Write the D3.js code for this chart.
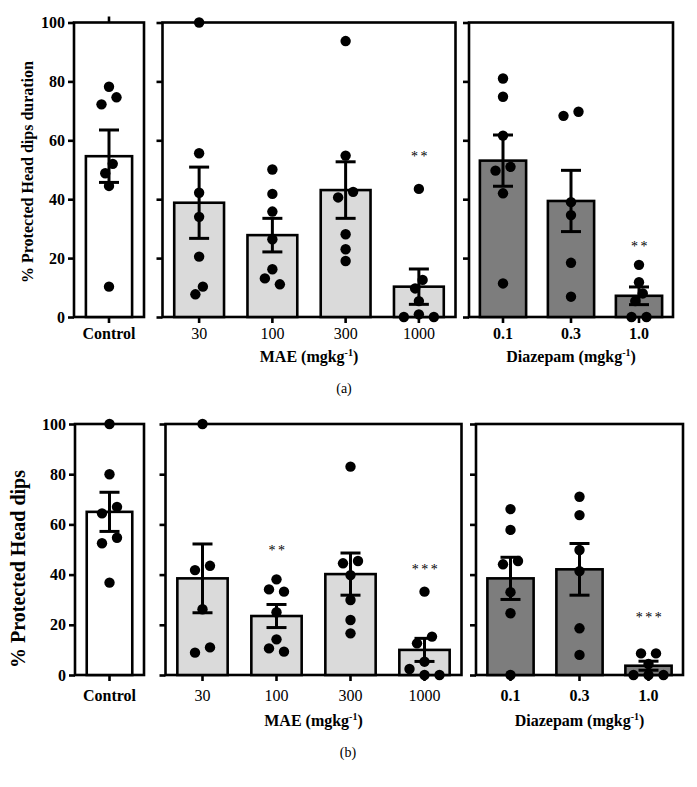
<!DOCTYPE html>
<html><head><meta charset="utf-8">
<script src="https://cdn.jsdelivr.net/npm/d3@7"></script>
<style>
body{margin:0;background:#fff}
text{font-family:"Liberation Serif","Times New Roman",serif;fill:#000}
</style>
</head><body>
<svg id="c" width="697" height="787"></svg>
<script>
// ---------------- DATA ----------------
const controlCats = ["Control"];
const maeCats = ["30", "100", "300", "1000"];
const diazCats = ["0.1", "0.3", "1.0"];
const yTicks = [0, 20, 40, 60, 80, 100];

// Panel (a): % Protected Head dips duration
const aControlPoints = [[78.2, 74.6, 72.2, 52, 48.8, 44.5, 10.3]];
const aControlMean = [54.6];
const aControlSem = [8.9];
const aMaePoints = [
  [100, 55.6, 42.2, 34, 20.5, 10.3, 7.7],
  [50.1, 41.8, 35.8, 26.4, 16.2, 13.1, 11.1],
  [93.7, 54.8, 42.5, 40.6, 28.1, 23, 19],
  [43.5, 12.6, 9.7, 5.4, 0.9, 0, 0]
];
const aMaeMean = [38.8, 27.8, 43.1, 10.3];
const aMaeSem = [12.1, 5.7, 9.6, 6.0];
const aMaeSig = ["", "", "", "**"];
const aMaeSigAt = [0, 0, 0, 55.6];
const aDiazPoints = [
  [81, 74.8, 61.6, 51, 49.7, 42, 11.4],
  [69.7, 68.3, 39, 34.6, 18.4, 6.9],
  [17.7, 11.8, 8, 5.4, 0, 0]
];
const aDiazMean = [53.1, 39.4, 7.2];
const aDiazSem = [8.7, 10.4, 3.0];
const aDiazSig = ["", "", "**"];
const aDiazSigAt = [0, 0, 25];

// Panel (b): % Protected Head dips
const bControlPoints = [[100, 80, 67, 64.4, 54.7, 52.5, 36.8]];
const bControlMean = [65];
const bControlSem = [7.8];
const bMaePoints = [
  [100, 43.5, 41.8, 26.2, 11, 8.9],
  [38.1, 34.1, 33.2, 25, 14.2, 10.6, 9.3],
  [83, 45.4, 44.5, 39.8, 29.9, 21.9, 16.6],
  [33.2, 15.3, 12.6, 5.3, 2.4, 0, 0]
];
const bMaeMean = [38.5, 23.5, 40.2, 10];
const bMaeSem = [13.7, 4.6, 8.4, 4.6];
const bMaeSig = ["", "**", "", "***"];
const bMaeSigAt = [0, 51, 0, 43.5];
const bDiazPoints = [
  [66.1, 57.8, 45.4, 44.1, 33, 24.6, 0],
  [71, 63.7, 49.8, 41.4, 18.6, 8],
  [8.6, 8.6, 4.4, 0, 0, 0]
];
const bDiazMean = [38.5, 42.1, 3.7];
const bDiazSem = [8.4, 10.3, 1.8];
const bDiazSig = ["", "", "***"];
const bDiazSigAt = [0, 0, 24.3];

// ---------------- LAYOUT ----------------
const panels = [
  {
    yTop: 22.5, yBot: 317, title: "% Protected Head dips duration", titleSize: 16,
    titleX: 33, titleY: 172, catY: 338.5, groupY: 362, label: "(a)", labelX: 344, labelY: 393,
    groups: [
      {cats: controlCats, pts: aControlPoints, mean: aControlMean, sem: aControlSem, x0: 74, x1: 144, pad: 0.34, fill: "#ffffff", bold: true, yLabels: true, topTick: true},
      {cats: maeCats, pts: aMaePoints, mean: aMaeMean, sem: aMaeSem, sig: aMaeSig, sigAt: aMaeSigAt, x0: 162.5, x1: 455.5, pad: 0.32, fill: "#dadada", bold: false, name: "MAE"},
      {cats: diazCats, pts: aDiazPoints, mean: aDiazMean, sem: aDiazSem, sig: aDiazSig, sigAt: aDiazSigAt, x0: 469, x1: 673, pad: 0.32, fill: "#7d7d7d", bold: true, name: "Diazepam"}
    ]
  },
  {
    yTop: 424, yBot: 675, title: "% Protected Head dips", titleSize: 20,
    titleX: 25, titleY: 569, catY: 701, groupY: 726, label: "(b)", labelX: 348, labelY: 757,
    groups: [
      {cats: controlCats, pts: bControlPoints, mean: bControlMean, sem: bControlSem, x0: 75, x1: 144, pad: 0.34, fill: "#ffffff", bold: true, yLabels: true},
      {cats: maeCats, pts: bMaePoints, mean: bMaeMean, sem: bMaeSem, sig: bMaeSig, sigAt: bMaeSigAt, x0: 165.5, x1: 461.5, pad: 0.32, fill: "#dadada", bold: false, name: "MAE"},
      {cats: diazCats, pts: bDiazPoints, mean: bDiazMean, sem: bDiazSem, sig: bDiazSig, sigAt: bDiazSigAt, x0: 476, x1: 683, pad: 0.33, fill: "#7d7d7d", bold: true, name: "Diazepam"}
    ]
  }
];

const svg = d3.select("#c");
const SW = 2.6;

// greedy beeswarm, then centre each vertically-chained cluster
function beeswarm(vals, y, s, D) {
  const order = vals.map((v, i) => i).sort((a, b) => vals[b] - vals[a]);
  const placed = [];
  const off = new Array(vals.length).fill(0);
  const cands = [0, -1, 1, -2, 2, -3, 3].map(k => k * s);
  order.forEach(i => {
    const py = y(vals[i]);
    for (const c of cands) {
      if (placed.every(p => Math.hypot(p.x - c, p.y - py) >= D)) {
        off[i] = c; placed.push({x: c, y: py}); return;
      }
    }
    placed.push({x: 0, y: py});
  });
  // chains
  let chain = [order[0]];
  const flush = () => {
    const o = chain.map(i => off[i]);
    const mid = (d3.min(o) + d3.max(o)) / 2;
    chain.forEach(i => off[i] -= mid);
  };
  for (let k = 1; k < order.length; k++) {
    const a = order[k - 1], b = order[k];
    if (y(vals[b]) - y(vals[a]) < D) chain.push(b);
    else { flush(); chain = [b]; }
  }
  flush();
  return off;
}

panels.forEach(P => {
  const y = d3.scaleLinear().domain([0, 100]).range([P.yBot, P.yTop]);
  const root = svg.append("g");

  P.groups.forEach(G => {
    const x = d3.scaleBand().domain(G.cats).range([G.x0, G.x1])
      .paddingInner(G.pad).paddingOuter(G.pad / 2);
    const g = root.append("g");

    const ya = g.append("g").attr("transform", `translate(${G.x0},0)`)
      .call(d3.axisLeft(y).tickValues(yTicks).tickSize(6).tickSizeOuter(0).tickPadding(3)
        .tickFormat(G.yLabels ? d3.format("d") : () => ""));
    ya.select(".domain").remove();
    ya.selectAll(".tick line").attr("stroke", "#000").attr("stroke-width", SW);
    ya.selectAll(".tick text").attr("font-size", 16).attr("font-weight", "bold")
      .attr("font-family", '"Liberation Serif",serif').attr("fill", "#000");

    const xa = g.append("g").attr("transform", `translate(0,${P.yBot})`)
      .call(d3.axisBottom(x).tickSize(6).tickSizeOuter(0));
    xa.select(".domain").remove();
    xa.selectAll(".tick line").attr("stroke", "#000").attr("stroke-width", SW);
    xa.selectAll(".tick text").attr("font-size", 16).attr("font-weight", G.bold ? "bold" : "normal")
      .attr("font-family", '"Liberation Serif",serif').attr("fill", "#000")
      .attr("y", P.catY - P.yBot).attr("dy", 0);

    if (G.topTick) {
      const ta = g.append("g").attr("transform", `translate(0,${P.yTop})`)
        .call(d3.axisTop(x).tickSize(6).tickSizeOuter(0).tickFormat(() => ""));
      ta.select(".domain").remove();
      ta.selectAll(".tick line").attr("stroke", "#000").attr("stroke-width", SW);
    }

    g.append("rect").attr("x", G.x0).attr("y", P.yTop)
      .attr("width", G.x1 - G.x0).attr("height", P.yBot - P.yTop)
      .attr("fill", "none").attr("stroke", "#000").attr("stroke-width", SW);

    g.selectAll(".bar").data(G.cats).join("rect")
      .attr("x", c => x(c)).attr("width", x.bandwidth())
      .attr("y", (c, i) => y(G.mean[i])).attr("height", (c, i) => y(0) - y(G.mean[i]))
      .attr("fill", G.fill).attr("stroke", "#000").attr("stroke-width", SW);

    G.cats.forEach((c, i) => {
      const vals = G.pts[i];
      const offs = beeswarm(vals, y, 7.5, 10.5);
      const cx = x(c) + x.bandwidth() / 2;
      g.selectAll(null).data(vals).join("circle")
        .attr("cx", (v, j) => cx + offs[j]).attr("cy", v => y(v)).attr("r", 5.2)
        .attr("fill", "#000");
    });

    G.cats.forEach((c, i) => {
      const cx = x(c) + x.bandwidth() / 2;
      const hi = y(G.mean[i] + G.sem[i]), lo = y(G.mean[i] - G.sem[i]);
      const eg = g.append("g").attr("stroke", "#000").attr("stroke-width", 3);
      eg.append("line").attr("x1", cx).attr("x2", cx).attr("y1", hi).attr("y2", lo);
      eg.append("line").attr("x1", cx - 10).attr("x2", cx + 10).attr("y1", hi).attr("y2", hi);
      eg.append("line").attr("x1", cx - 10).attr("x2", cx + 10).attr("y1", lo).attr("y2", lo);
    });

    if (G.sig) {
      G.cats.forEach((c, i) => {
        if (!G.sig[i]) return;
        const cx = x(c) + x.bandwidth() / 2;
        g.append("text").attr("x", cx + 1.5).attr("y", y(G.sigAt[i]) + 8)
          .attr("text-anchor", "middle").attr("font-size", 14).attr("letter-spacing", 2.5)
          .style("fill", "#000").text(G.sig[i]);
      });
    }

    if (G.name) {
      const t = g.append("text").attr("x", (G.x0 + G.x1) / 2).attr("y", P.groupY)
        .attr("text-anchor", "middle").attr("font-size", 16).attr("font-weight", "bold");
      t.append("tspan").text(G.name + " (mgkg");
      t.append("tspan").attr("font-size", 10).attr("dy", -6).text("-1");
      t.append("tspan").attr("dy", 6).text(")");
    }
  });

  root.append("text").attr("transform", `translate(${P.titleX},${P.titleY}) rotate(-90)`)
    .attr("text-anchor", "middle").attr("font-size", P.titleSize).attr("font-weight", "bold")
    .text(P.title);

  root.append("text").attr("x", P.labelX).attr("y", P.labelY).attr("text-anchor", "middle")
    .attr("font-size", 14).text(P.label);
});
</script>
</body></html>
